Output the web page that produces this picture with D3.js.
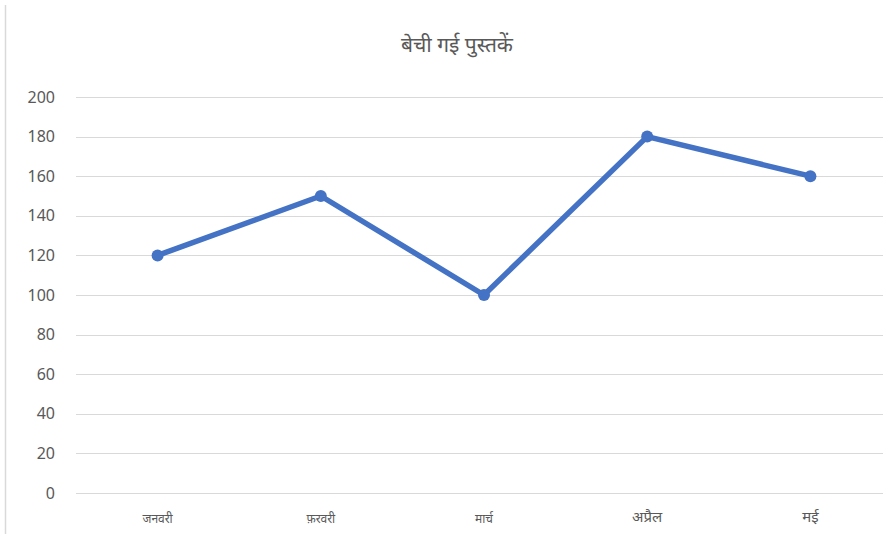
<!DOCTYPE html>
<html>
<head>
<meta charset="utf-8">
<script src="https://cdn.jsdelivr.net/npm/d3@7"></script>
<style>
  body { margin: 0; background: #fff; }
  text { font-family: "Noto Sans", "Open Sans", sans-serif; fill: #595959; }
</style>
</head>
<body>
<div id="chart"></div>
<script>
// chart data
var months = ["जनवरी", "फ़रवरी", "मार्च", "अप्रैल", "मई"];
var booksSold = [120, 150, 100, 180, 160];
var yTicks = [0, 20, 40, 60, 80, 100, 120, 140, 160, 180, 200];
var titleText = "बेची गई पुस्तकें";

var svgWidth = 883;
var svgHeight = 538;

var margin = { top: 97, right: -9, bottom: 45, left: 76 };
var width = svgWidth - margin.left - margin.right;
var height = svgHeight - margin.top - margin.bottom;

var svg = d3.select("#chart")
  .append("svg")
  .attr("width", svgWidth)
  .attr("height", svgHeight);

// frame edge on the left
svg.append("line")
  .attr("x1", 5.5).attr("x2", 5.5)
  .attr("y1", 5).attr("y2", 534)
  .attr("stroke", "#d9d9d9")
  .attr("stroke-width", 1.5);

var chartGroup = svg.append("g")
  .attr("transform", `translate(${margin.left}, ${margin.top})`);

var xScale = d3.scaleBand()
  .domain(months)
  .range([0, width]);

var yScale = d3.scaleLinear()
  .domain([0, 200])
  .range([height, 0]);

// gridlines
chartGroup.selectAll(".grid")
  .data(yTicks)
  .enter()
  .append("line")
  .attr("class", "grid")
  .attr("x1", 0)
  .attr("x2", svgWidth - margin.left)
  .attr("y1", d => Math.round(yScale(d)) + 0.5)
  .attr("y2", d => Math.round(yScale(d)) + 0.5)
  .attr("stroke", "#d9d9d9")
  .attr("stroke-width", 1);

// y axis labels
var leftAxis = d3.axisLeft(yScale).tickValues(yTicks).tickSize(0).tickPadding(21);
var yAxisG = chartGroup.append("g").call(leftAxis);
yAxisG.select(".domain").remove();
yAxisG.selectAll("text")
  .style("font-size", "16px")
  .style("fill", "#595959");

// x axis labels
var bottomAxis = d3.axisBottom(xScale).tickSize(0).tickPadding(20);
var xAxisG = chartGroup.append("g")
  .attr("transform", `translate(0, ${height})`)
  .call(bottomAxis);
xAxisG.select(".domain").remove();
xAxisG.selectAll("text")
  .style("font-size", (d, i) => i < 3 ? "12px" : "15px")
  .attr("dy", (d, i) => i < 3 ? "0.85em" : "0.6em")
  .style("fill", "#595959");

// line
var line = d3.line()
  .x((d, i) => xScale(months[i]) + xScale.bandwidth() / 2)
  .y(d => yScale(d));

chartGroup.append("path")
  .datum(booksSold)
  .attr("d", line)
  .attr("fill", "none")
  .attr("stroke", "#4472C4")
  .attr("stroke-width", 5.5)
  .attr("stroke-linejoin", "round")
  .attr("stroke-linecap", "round");

chartGroup.selectAll("circle")
  .data(booksSold)
  .enter()
  .append("circle")
  .attr("cx", (d, i) => xScale(months[i]) + xScale.bandwidth() / 2)
  .attr("cy", d => yScale(d))
  .attr("r", 6)
  .attr("fill", "#4472C4");

// title
svg.append("text")
  .attr("x", 457)
  .attr("y", 52)
  .attr("text-anchor", "middle")
  .style("font-size", "21px")
  .style("fill", "#595959")
  .text(titleText);
</script>
</body>
</html>
